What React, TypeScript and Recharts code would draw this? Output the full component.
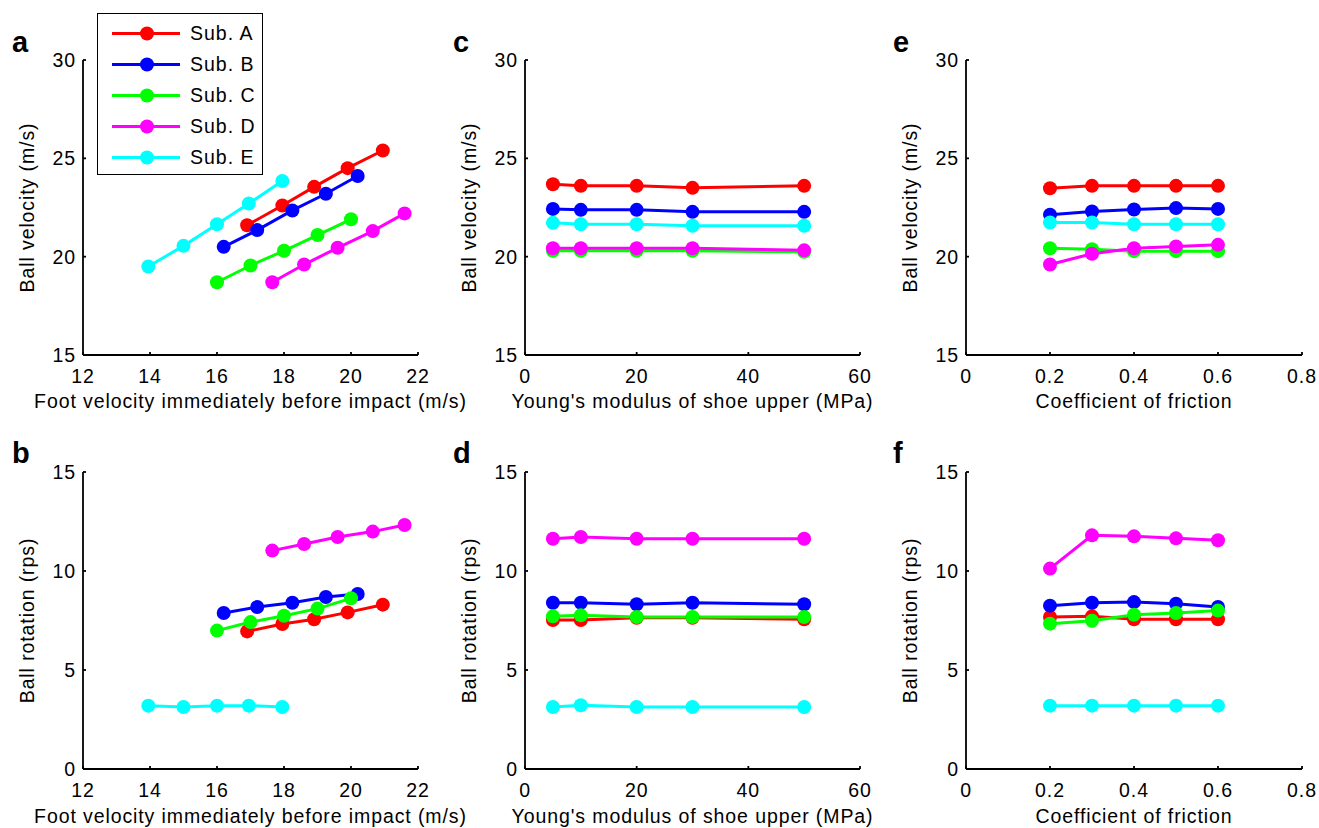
import React from "react";
import { LineChart, Line, XAxis, YAxis, Legend } from "recharts";

const FONT = '"Liberation Sans", Arial, sans-serif';

const SUBJECTS = ["Sub. A", "Sub. B", "Sub. C", "Sub. D", "Sub. E"];
const COLORS = ["#ff0000", "#0000ff", "#00ff00", "#ff00ff", "#00ffff"];

// foot velocity immediately before impact (m/s), per subject
const footA = [16.9, 17.95, 18.9, 19.9, 20.95];
const footB = [16.2, 17.2, 18.25, 19.25, 20.2];
const footC = [16.0, 17.0, 18.0, 19.0, 20.0];
const footD = [17.65, 18.6, 19.6, 20.65, 21.6];
const footE = [13.95, 15.0, 16.0, 16.95, 17.95];

// a: ball velocity vs foot velocity
const velFootA = [21.6, 22.6, 23.55, 24.5, 25.4];
const velFootB = [20.5, 21.35, 22.35, 23.2, 24.1];
const velFootC = [18.7, 19.55, 20.3, 21.1, 21.9];
const velFootD = [18.7, 19.6, 20.45, 21.3, 22.2];
const velFootE = [19.5, 20.55, 21.65, 22.7, 23.85];

// b: ball rotation vs foot velocity
const rotFootA = [6.95, 7.32, 7.56, 7.91, 8.3];
const rotFootB = [7.88, 8.18, 8.4, 8.69, 8.84];
const rotFootC = [6.99, 7.42, 7.74, 8.1, 8.62];
const rotFootD = [11.03, 11.36, 11.72, 11.99, 12.32];
const rotFootE = [3.2, 3.13, 3.2, 3.2, 3.13];

// Young's modulus of shoe upper (MPa)
const young = [5, 10, 20, 30, 50];

// c: ball velocity vs Young's modulus
const velYoungA = [23.68, 23.6, 23.6, 23.5, 23.6];
const velYoungB = [22.43, 22.38, 22.38, 22.28, 22.28];
const velYoungC = [20.3, 20.3, 20.3, 20.3, 20.25];
const velYoungD = [20.43, 20.43, 20.43, 20.43, 20.32];
const velYoungE = [21.72, 21.65, 21.65, 21.57, 21.57];

// d: ball rotation vs Young's modulus
const rotYoungA = [7.52, 7.52, 7.64, 7.64, 7.56];
const rotYoungB = [8.4, 8.4, 8.32, 8.4, 8.32];
const rotYoungC = [7.71, 7.76, 7.68, 7.68, 7.68];
const rotYoungD = [11.63, 11.72, 11.63, 11.63, 11.63];
const rotYoungE = [3.13, 3.22, 3.13, 3.13, 3.13];

// coefficient of friction
const friction = [0.2, 0.3, 0.4, 0.5, 0.6];

// e: ball velocity vs friction
const velFricA = [23.48, 23.6, 23.6, 23.6, 23.6];
const velFricB = [22.13, 22.3, 22.4, 22.47, 22.43];
const velFricC = [20.43, 20.38, 20.28, 20.28, 20.28];
const velFricD = [19.6, 20.15, 20.43, 20.52, 20.6];
const velFricE = [21.74, 21.74, 21.65, 21.65, 21.65];

// f: ball rotation vs friction
const rotFricA = [7.68, 7.71, 7.56, 7.56, 7.56];
const rotFricB = [8.25, 8.4, 8.43, 8.35, 8.18];
const rotFricC = [7.34, 7.49, 7.79, 7.88, 8.0];
const rotFricD = [10.12, 11.8, 11.75, 11.65, 11.55];
const rotFricE = [3.2, 3.2, 3.2, 3.2, 3.2];

const footTicks = [12, 14, 16, 18, 20, 22];
const youngTicks = [0, 20, 40, 60];
const fricTicks = [0, 0.2, 0.4, 0.6, 0.8];
const velTicks = [15, 20, 25, 30];
const rotTicks = [0, 5, 10, 15];

const zip = (xs: number[], ys: number[]) => ys.map((y, i) => ({ x: xs[i], y }));

const LegendBox = ({ payload }: any) => (
  <div
    style={{
      width: 166,
      height: 162,
      boxSizing: "border-box",
      border: "1.5px solid #000",
      background: "#fff",
      paddingTop: 4,
    }}
  >
    {(payload || []).map((p: any) => (
      <div key={p.value} style={{ display: "flex", alignItems: "center", height: 31 }}>
        <svg width={92} height={31}>
          <line x1={14} x2={82} y1={15.5} y2={15.5} stroke={p.color} strokeWidth={3} />
          <circle cx={49} cy={15.5} r={7} fill={p.color} />
        </svg>
        <span style={{ fontFamily: FONT, fontSize: 19.5, letterSpacing: 1, color: "#000" }}>{p.value}</span>
      </div>
    ))}
  </div>
);

interface PanelProps {
  left: number;
  top: number;
  width: number;
  height: number;
  margin: { top: number; right: number; bottom: number; left: number };
  xHeight: number;
  xs: number[][];
  ys: number[][];
  xDomain: [number, number];
  xTicks: number[];
  yDomain: [number, number];
  yTicks: number[];
  xLabel: string;
  yLabel: string;
  legend?: boolean;
}

const textStyle = { fontSize: 19.5, fill: "#000", fontFamily: FONT, letterSpacing: 0.9 };
const axisStroke = { stroke: "#000", strokeWidth: 1.8 };

function Panel(p: PanelProps) {
  return (
    <div style={{ position: "absolute", left: p.left, top: p.top }}>
      <LineChart width={p.width} height={p.height} margin={p.margin}>
        <XAxis
          type="number"
          dataKey="x"
          domain={p.xDomain}
          ticks={p.xTicks}
          height={p.xHeight}
          axisLine={axisStroke}
          tickLine={axisStroke}
          tickSize={-3}
          tickMargin={17}
          tick={textStyle}
          interval={0}
          label={{ value: p.xLabel, position: "insideBottom", offset: 0, style: textStyle }}
        />
        <YAxis
          type="number"
          domain={p.yDomain}
          ticks={p.yTicks}
          width={60}
          axisLine={axisStroke}
          tickLine={axisStroke}
          tickSize={-3}
          tickMargin={10}
          tick={textStyle}
          interval={0}
          label={{
            value: p.yLabel,
            angle: -90,
            position: "center",
            dx: -26,
            style: { ...textStyle, textAnchor: "middle" },
          }}
        />
        {p.legend && (
          <Legend
            layout="vertical"
            align="center"
            verticalAlign="middle"
            wrapperStyle={{ left: 97, top: 13, width: 166 }}
            content={LegendBox}
          />
        )}
        {SUBJECTS.map((name, i) => (
          <Line
            key={name}
            name={name}
            data={zip(p.xs[i], p.ys[i])}
            dataKey="y"
            stroke={COLORS[i]}
            strokeWidth={3}
            dot={{ r: 7, fill: COLORS[i], stroke: COLORS[i], strokeWidth: 0 }}
            activeDot={false}
            isAnimationActive={false}
          />
        ))}
      </LineChart>
    </div>
  );
}

const rowA = { top: 0, height: 420, mTop: 60, mBottom: 12, xHeight: 53 };
const rowB = { top: 420, height: 408, mTop: 52, mBottom: 5, xHeight: 54 };
// first column is drawn wider so its long x title is not clipped
const cols = [
  { left: 0, width: 480, plotLeft: 83, right: 62 },
  { left: 440, width: 440, plotLeft: 85, right: 20 },
  { left: 880, width: 439, plotLeft: 86, right: 17 },
];

const footXs = [footA, footB, footC, footD, footE];
const youngXs = [young, young, young, young, young];
const fricXs = [friction, friction, friction, friction, friction];

const panels = [
  { row: rowA, col: cols[0], xs: footXs, ys: [velFootA, velFootB, velFootC, velFootD, velFootE], xDomain: [12, 22], xTicks: footTicks, yDomain: [15, 30], yTicks: velTicks, xLabel: "Foot velocity immediately before impact (m/s)", yLabel: "Ball velocity (m/s)", letter: "a", legend: true },
  { row: rowB, col: cols[0], xs: footXs, ys: [rotFootA, rotFootB, rotFootC, rotFootD, rotFootE], xDomain: [12, 22], xTicks: footTicks, yDomain: [0, 15], yTicks: rotTicks, xLabel: "Foot velocity immediately before impact (m/s)", yLabel: "Ball rotation (rps)", letter: "b" },
  { row: rowA, col: cols[1], xs: youngXs, ys: [velYoungA, velYoungB, velYoungC, velYoungD, velYoungE], xDomain: [0, 60], xTicks: youngTicks, yDomain: [15, 30], yTicks: velTicks, xLabel: "Young's modulus of shoe upper (MPa)", yLabel: "Ball velocity (m/s)", letter: "c" },
  { row: rowB, col: cols[1], xs: youngXs, ys: [rotYoungA, rotYoungB, rotYoungC, rotYoungD, rotYoungE], xDomain: [0, 60], xTicks: youngTicks, yDomain: [0, 15], yTicks: rotTicks, xLabel: "Young's modulus of shoe upper (MPa)", yLabel: "Ball rotation (rps)", letter: "d" },
  { row: rowA, col: cols[2], xs: fricXs, ys: [velFricA, velFricB, velFricC, velFricD, velFricE], xDomain: [0, 0.8], xTicks: fricTicks, yDomain: [15, 30], yTicks: velTicks, xLabel: "Coefficient of friction", yLabel: "Ball velocity (m/s)", letter: "e" },
  { row: rowB, col: cols[2], xs: fricXs, ys: [rotFricA, rotFricB, rotFricC, rotFricD, rotFricE], xDomain: [0, 0.8], xTicks: fricTicks, yDomain: [0, 15], yTicks: rotTicks, xLabel: "Coefficient of friction", yLabel: "Ball rotation (rps)", letter: "f" },
];

export default function App() {
  return (
    <div style={{ position: "absolute", left: 0, top: 0, width: 1319, height: 828, background: "#fff" }}>
      {panels.map((pn) => (
        <Panel
          key={pn.letter}
          left={pn.col.left}
          top={pn.row.top}
          width={pn.col.width}
          height={pn.row.height}
          margin={{ top: pn.row.mTop, right: pn.col.right, bottom: pn.row.mBottom, left: pn.col.plotLeft - 60 }}
          xHeight={pn.row.xHeight}
          xs={pn.xs}
          ys={pn.ys}
          xDomain={pn.xDomain as [number, number]}
          xTicks={pn.xTicks}
          yDomain={pn.yDomain as [number, number]}
          yTicks={pn.yTicks}
          xLabel={pn.xLabel}
          yLabel={pn.yLabel}
          legend={pn.legend}
        />
      ))}
      <svg width={1319} height={828} style={{ position: "absolute", left: 0, top: 0, pointerEvents: "none" }}>
        {panels.map((pn) => (
          <text
            key={pn.letter}
            x={pn.col.left + (pn.col.left === 0 ? 12 : 13)}
            y={pn.row.top + (pn.row.top === 0 ? 52 : 43)}
            fontFamily={FONT}
            fontWeight="bold"
            fontSize={29}
            fill="#000"
          >
            {pn.letter}
          </text>
        ))}
      </svg>
    </div>
  );
}
